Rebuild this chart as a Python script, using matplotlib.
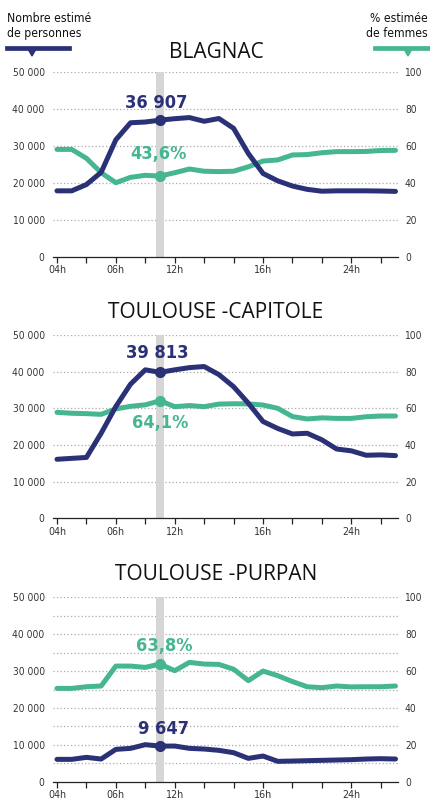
import numpy as np
import matplotlib
matplotlib.use("Agg")
import matplotlib.pyplot as plt
from matplotlib import font_manager
from matplotlib.lines import Line2D
from matplotlib.patches import Polygon

# hourly positions, 24 points
hours = np.arange(24)
tick_pos = list(range(0, 24, 2))
tick_labels = {0: "04h", 4: "06h", 8: "12h", 14: "16h", 20: "24h"}
highlight = 7

titles = ["BLAGNAC", "TOULOUSE -CAPITOLE", "TOULOUSE -PURPAN"]

blagnac_people = [17800, 17800, 19500, 22800, 31600, 36200, 36400, 36907, 37300, 37600, 36600, 37350,
                  34700, 27900, 22500, 20500, 19100, 18200, 17700, 17800, 17800, 17800, 17750, 17650]
blagnac_women = [58.0, 58.0, 53.2, 45.4, 40.0, 42.9, 44.0, 43.6, 45.4, 47.4, 46.2, 46.0,
                 46.2, 48.6, 51.7, 52.3, 55.0, 55.2, 56.2, 56.8, 56.8, 56.9, 57.4, 57.5]

capitole_people = [16100, 16350, 16600, 23200, 30500, 36600, 40500, 39813, 40500, 41100, 41400, 39200,
                   35900, 31400, 26400, 24500, 23000, 23200, 21400, 18900, 18400, 17200, 17300, 17100]
capitole_women = [57.8, 57.3, 57.1, 56.7, 59.7, 61.1, 61.9, 64.1, 60.9, 61.5, 60.9, 62.3,
                  62.5, 62.4, 61.8, 60.0, 55.5, 54.2, 54.8, 54.5, 54.5, 55.4, 55.8, 55.8]

purpan_people = [6060, 6060, 6600, 6150, 8770, 9040, 10040, 9647, 9670, 9040, 8860, 8500,
                 7870, 6330, 6960, 5520, 5600, 5700, 5790, 5880, 5970, 6150, 6240, 6150]
purpan_women = [50.6, 50.6, 51.5, 51.9, 62.7, 62.7, 62.0, 63.8, 60.2, 64.7, 63.8, 63.6,
                61.0, 54.8, 60.0, 57.5, 54.3, 51.5, 51.0, 51.9, 51.4, 51.5, 51.5, 51.9]

people = [blagnac_people, capitole_people, purpan_people]
women = [blagnac_women, capitole_women, purpan_women]

left_ticks = [0, 10000, 20000, 30000, 40000, 50000]
right_ticks = [0, 20, 40, 60, 80, 100]
grid_steps = [20, 20, 10]

NAVY = "#2a3177"
GREEN = "#46b692"
BAND = "#d6d6d6"

# pick a narrow font if one is there
fonts = font_manager.fontManager.ttflist
names = {f.name for f in fonts}
if "Liberation Sans Narrow" in names:
    NARROW = dict(family="Liberation Sans Narrow")
    shrink = 1.0
elif any(f.name == "DejaVu Sans" and f.stretch == "condensed" for f in fonts):
    NARROW = dict(family="DejaVu Sans", fontstretch="condensed")
    shrink = 0.93
else:
    NARROW = dict(family="Roboto")
    shrink = 0.9

W, H = 431, 807
fig = plt.figure(figsize=(W / 100, H / 100), dpi=100)
fig.patch.set_facecolor("white")

# axes boxes in pixels: (y of 0, y of 50000)
boxes = [(256.7, 71.7), (518.3, 335.0), (781.7, 597.3)]
title_y = [53, 313, 575]
# label offsets in px (dx, dy), screen y upward
people_off = [(-4, 17), (-3, 19), (3, 17)]
women_off = [(-2, 22), (0, -22), (4, 18)]

x0, x1 = 53, 398
for k in range(3):
    yb, yt = boxes[k]
    rect = [x0 / W, 1 - yb / H, (x1 - x0) / W, (yb - yt) / H]
    ax2 = fig.add_axes(rect)
    ax = ax2.twinx()
    ax2.set_zorder(1)
    ax.set_zorder(2)
    ax.patch.set_visible(False)

    # ax2 -> right axis (women %), band and grid; ax -> left axis (people)
    ax2.yaxis.tick_right()
    ax.yaxis.tick_left()
    ax2.set_xlim(-0.27, 23.17)
    ax2.set_ylim(0, 100)
    ax.set_ylim(0, 50000)

    ax2.axvspan(highlight - 0.29, highlight + 0.29, color=BAND, lw=0, zorder=1)
    for g in np.arange(grid_steps[k], 100.1, grid_steps[k]):
        ax2.axhline(g, color="#ababab", lw=0.9, ls=(0, (1, 1.8)), zorder=0.5)

    ax2.plot(hours, women[k], color=GREEN, lw=3.6, solid_joinstyle="round",
             solid_capstyle="round", zorder=3)
    ax2.plot(hours[highlight], women[k][highlight], "o", color=GREEN, ms=7, zorder=4)
    ax.plot(hours, people[k], color=NAVY, lw=3.6, solid_joinstyle="round",
            solid_capstyle="round", zorder=3)
    ax.plot(hours[highlight], people[k][highlight], "o", color=NAVY, ms=7, zorder=4)

    pv = people[k][highlight]
    wv = women[k][highlight]
    dx, dy = people_off[k]
    ax.annotate(f"{pv:,}".replace(",", " "), xy=(highlight, pv),
                xytext=(dx * 0.72, dy * 0.72), textcoords="offset points",
                ha="center", va="center", color=NAVY, fontsize=14 * shrink,
                fontweight="bold", zorder=5, **NARROW)
    dx, dy = women_off[k]
    ax2.annotate(f"{wv:.1f}".replace(".", ",") + "%", xy=(highlight, wv),
                 xytext=(dx * 0.72, dy * 0.72), textcoords="offset points",
                 ha="center", va="center", color=GREEN, fontsize=14 * shrink,
                 fontweight="bold", zorder=5, **NARROW)

    for a in (ax, ax2):
        for s in a.spines.values():
            s.set_visible(False)
    ax2.spines["bottom"].set_visible(True)
    ax2.spines["bottom"].set_color("#222222")
    ax2.spines["bottom"].set_linewidth(0.9)

    ax2.set_xticks(tick_pos)
    ax2.set_xticklabels([tick_labels.get(p, "") for p in tick_pos],
                        fontsize=8.2 * shrink, color="#333333", **NARROW)
    ax2.tick_params(axis="x", length=4, width=0.9, color="#222222", pad=2)

    ax2.set_yticks(right_ticks)
    ax2.set_yticklabels([str(v) for v in right_ticks], fontsize=7.8 * shrink,
                        color="#333333", **NARROW)
    ax2.tick_params(axis="y", length=0, pad=5)
    ax.set_yticks(left_ticks)
    ax.set_yticklabels([f"{v:,}".replace(",", " ") for v in left_ticks],
                       fontsize=7.8 * shrink, color="#333333", **NARROW)
    ax.tick_params(axis="y", length=0, pad=6)

    fig.text(216 / W, 1 - title_y[k] / H, titles[k], ha="center", va="center",
             fontsize=15, family=["Open Sans", "DejaVu Sans"], color="#111111")

# header legends
hdr = dict(fontsize=9.4 * shrink, color="#111111", va="baseline", **NARROW)
fig.text(7 / W, 1 - 22 / H, "Nombre estimé", ha="left", **hdr)
fig.text(7 / W, 1 - 37 / H, "de personnes", ha="left", **hdr)
fig.text(428 / W, 1 - 22 / H, "% estimée", ha="right", **hdr)
fig.text(428 / W, 1 - 37 / H, "de femmes", ha="right", **hdr)

for (xa, xb, xt, col) in [(7, 69, 32, NAVY), (375, 430, 408, GREEN)]:
    fig.add_artist(Line2D([xa / W, xb / W], [1 - 48 / H, 1 - 48 / H], color=col, lw=3.4,
                          transform=fig.transFigure))
    fig.add_artist(Polygon([[(xt - 4) / W, 1 - 49 / H], [(xt + 4) / W, 1 - 49 / H],
                            [xt / W, 1 - 56 / H]], closed=True, color=col,
                           transform=fig.transFigure))

fig.savefig("out.png", dpi=100)
